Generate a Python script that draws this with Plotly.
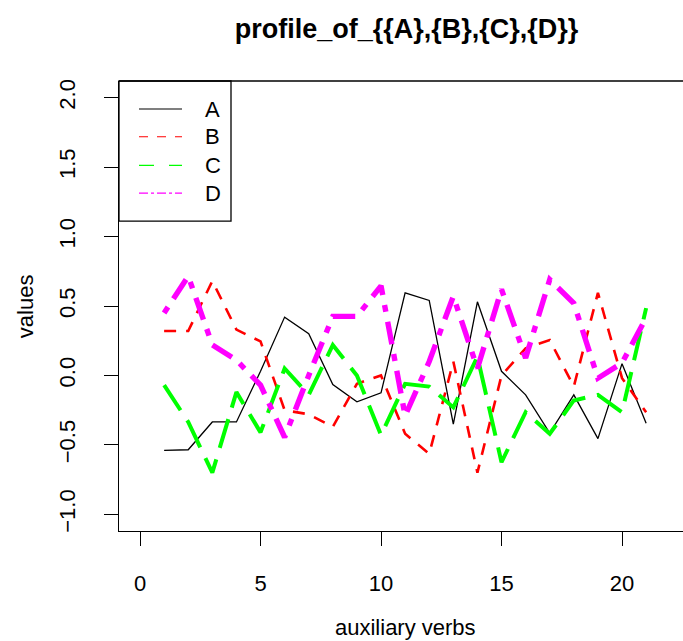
import plotly.graph_objects as go

x_vals = list(range(1, 22))
series_names = ["A", "B", "C", "D"]
A = [-0.54, -0.535, -0.335, -0.335, 0.03, 0.42, 0.30, -0.065, -0.19, -0.125, 0.595,
     0.54, -0.35, 0.53, 0.03, -0.14, -0.415, -0.14, -0.455, 0.085, -0.345]
B = [0.32, 0.32, 0.68, 0.33, 0.245, -0.25, -0.28, -0.37, -0.06, 0.0, -0.42,
     -0.565, 0.1, -0.70, 0.0, 0.195, 0.255, -0.08, 0.595, -0.02, -0.265]
C = [-0.07, -0.335, -0.70, -0.12, -0.41, 0.05, -0.14, 0.22, 0.0, -0.43, -0.06,
     -0.08, -0.23, 0.135, -0.625, -0.265, -0.42, -0.18, -0.14, -0.265, 0.485]
D = [0.45, 0.715, 0.22, 0.11, -0.07, -0.445, 0.0, 0.425, 0.425, 0.645, -0.29,
     0.1, 0.57, 0.05, 0.62, 0.125, 0.69, 0.52, -0.02, 0.09, 0.415]
x_ticks = [0, 5, 10, 15, 20]
y_ticks = [-1.0, -0.5, 0.0, 0.5, 1.0, 1.5, 2.0]

FONT = "Liberation Sans, Arial, Helvetica, sans-serif"
colors = ["#000000", "#FF0000", "#00FF00", "#FF00FF"]
widths = [1.3, 2.6, 4.0, 5.4]
dashes = ["solid", "12px,10px", "30px,12px", "7px,10px,23px,10px"]
legend_dashes = ["solid", "dash", "longdash", "dashdot"]

fig = go.Figure()
for name, ys, c, w, d in zip(series_names, [A, B, C, D], colors, widths, dashes):
    fig.add_trace(go.Scatter(x=x_vals, y=ys, mode="lines", name=name,
                             line=dict(color=c, width=w, dash=d),
                             showlegend=False))

# plot area in pixels: x 119..683, y 81..530.7
L, R, T, Bm = 119, 683, 81, 530.7
W, H = R - L, Bm - T

def px(xp):
    return (xp - L) / W

def py(yp):
    return (Bm - yp) / H

shapes = [
    dict(type="line", xref="paper", yref="paper", x0=0, x1=1, y0=1, y1=1,
         line=dict(color="black", width=1.3)),
    dict(type="rect", xref="paper", yref="paper", x0=0, x1=px(231), y0=py(221), y1=1,
         line=dict(color="black", width=1.3), fillcolor="rgba(0,0,0,0)"),
]
annotations = []
leg_y = [109, 136.7, 165.3, 193]
for name, c, d, yy in zip(series_names, colors, legend_dashes, leg_y):
    shapes.append(dict(type="line", xref="paper", yref="paper", x0=px(139), x1=px(182),
                       y0=py(yy), y1=py(yy), line=dict(color=c, width=1.2, dash=d)))
    annotations.append(dict(text=name, xref="paper", yref="paper", x=px(203), y=py(yy),
                            xanchor="left", yanchor="middle", showarrow=False,
                            font=dict(family=FONT, size=22, color="black")))

annotations.append(dict(text="values", xref="paper", yref="paper", x=px(25), y=py(306),
                        xanchor="center", yanchor="middle", textangle=-90, showarrow=False,
                        font=dict(family=FONT, size=22, color="black")))
annotations.append(dict(text="auxiliary verbs", xref="paper", yref="paper", x=px(405), y=py(627),
                        xanchor="center", yanchor="middle", showarrow=False,
                        font=dict(family=FONT, size=22, color="black")))

fig.update_layout(
    width=683, height=641,
    margin=dict(l=L, r=0, t=T, b=641 - Bm, pad=0),
    paper_bgcolor="white", plot_bgcolor="white",
    font=dict(family=FONT, size=22, color="black"),
    title=dict(text="<b>profile_of_{{A},{B},{C},{D}}</b>", x=406.5 / 683, xref="container",
               xanchor="center", y=(641 - 29) / 641, yref="container", yanchor="middle",
               font=dict(family=FONT, size=27, color="black")),
    shapes=shapes, annotations=annotations,
    showlegend=False,
)
fig.update_xaxes(range=[-0.872, 22.53], tickvals=x_ticks, ticktext=[str(v) for v in x_ticks],
                 showgrid=False, zeroline=False, showline=True, linecolor="black", linewidth=1.3,
                 ticks="outside", ticklen=14, tickwidth=1.3, tickcolor="black",
                 ticklabelstandoff=18, tickfont=dict(family=FONT, size=22))
fig.update_yaxes(range=[-1.12, 2.12], tickvals=y_ticks, tickformat=".1f",
                 showgrid=False, zeroline=False, showline=True, linecolor="black", linewidth=1.3,
                 ticks="outside", ticklen=14, tickwidth=1.3, tickcolor="black",
                 tickangle=-90, ticklabelstandoff=20, tickfont=dict(family=FONT, size=22))

fig.write_html("out.html")
